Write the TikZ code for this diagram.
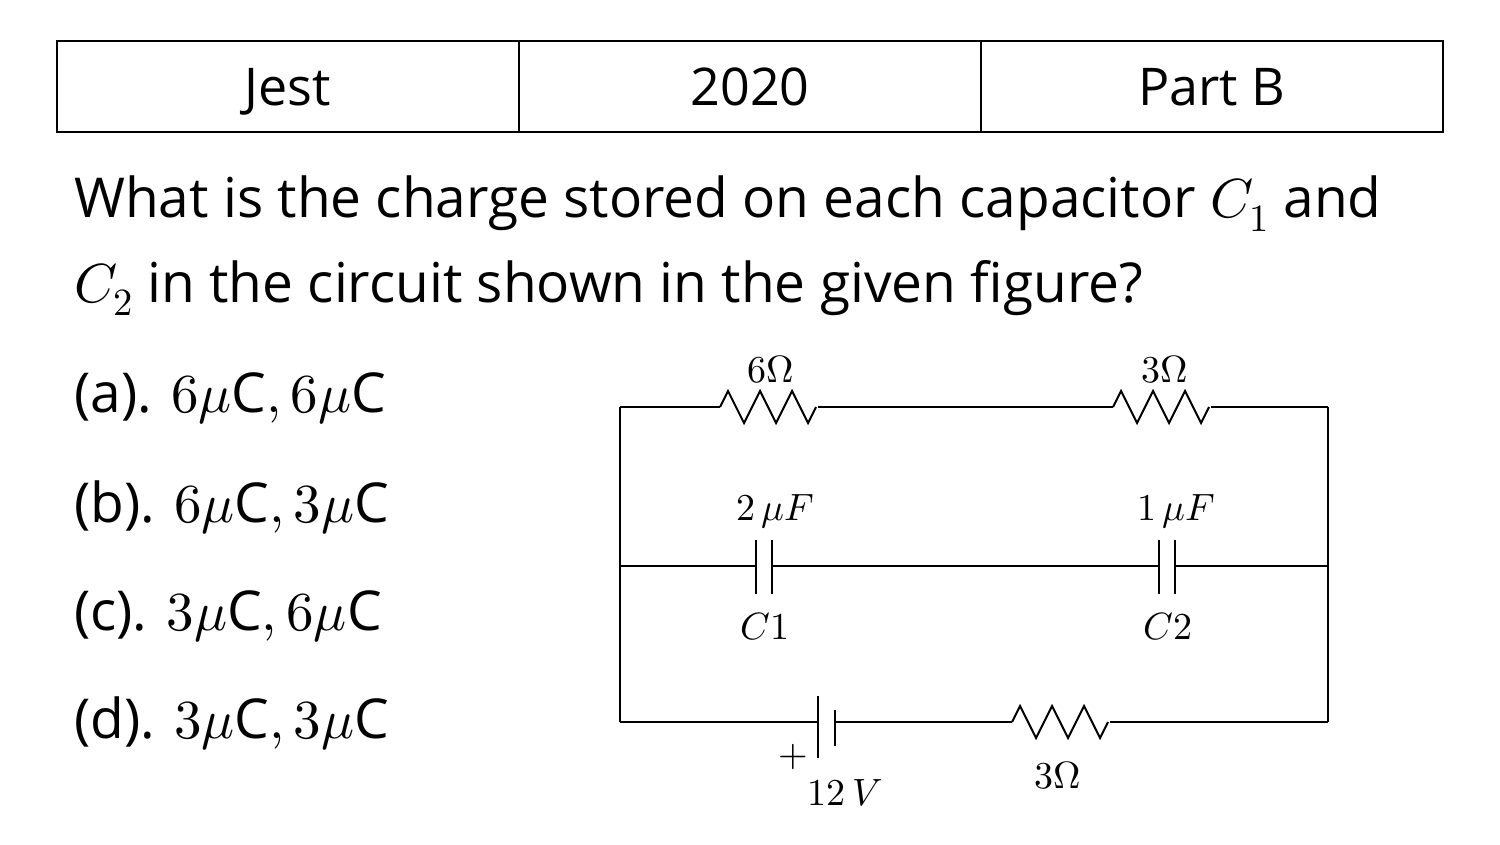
\documentclass[tikz,border=0pt]{standalone}
\usepackage{fontspec}
\setmainfont{Open Sans}
\usepackage{unicode-math}
\begin{document}
\begin{tikzpicture}[x=1pt,y=-1pt,
 txt/.style={font=\fontsize{55}{64}\selectfont,inner sep=0pt},
 ht/.style={font=\fontsize{52}{60}\selectfont,inner sep=0pt},
 ct/.style={font=\fontsize{38}{44}\selectfont,inner sep=0pt},
 w/.style={line width=2pt},
 resistor/.pic={\draw[line width=2pt,line join=miter] (0,0) -- ++(8,-16) -- ++(16,32) -- ++(16,-32) -- ++(16,32) -- ++(16,-32) -- ++(16,32) -- ++(8,-16);}]
\useasboundingbox (0,0) rectangle (1500,845);
\draw[line width=2pt] (57,41) rectangle (1443,132);
\draw[line width=2pt] (519,41) -- (519,132) (981,41) -- (981,132);
\node[ht,anchor=base] (h1) at (288,106) {Jest};
\node[ht,anchor=base] (h2) at (750,106) {2020};
\node[ht,anchor=base] (h3) at (1212,106) {Part B};
\node[txt,anchor=base west] (q1) at (74,218) {What is the charge stored on each capacitor $C_1$ and};
\node[txt,anchor=base west] (q2) at (74,302) {$C_2$ in the circuit shown in the given figure?};
\node[txt,anchor=base west] (oa) at (74,412) {(a). $6\mu\mathrm{C}, 6\mu\mathrm{C}$};
\node[txt,anchor=base west] (ob) at (74,522) {(b). $6\mu\mathrm{C}, 3\mu\mathrm{C}$};
\node[txt,anchor=base west] (oc) at (74,630) {(c). $3\mu\mathrm{C}, 6\mu\mathrm{C}$};
\node[txt,anchor=base west] (od) at (74,738) {(d). $3\mu\mathrm{C}, 3\mu\mathrm{C}$};
% circuit
\coordinate (TL) at (620,407); \coordinate (TR) at (1328,407);
\coordinate (ML) at (620,566); \coordinate (MR) at (1328,566);
\coordinate (BL) at (620,722); \coordinate (BR) at (1328,722);
\draw[w] (TL) -- (BL) (TR) -- (BR);
\draw[w] (TL) -- (720,407) (818,407) -- (1113,407) (1211,407) -- (TR);
\pic at (720,407) {resistor}; \pic at (1113,407) {resistor};
\draw[w] (ML) -- (756,566) (772,566) -- (1159,566) (1175,566) -- (MR);
\draw[w] (756,540) -- (756,594) (772,540) -- (772,594);
\draw[w] (1159,540) -- (1159,594) (1175,540) -- (1175,594);
\draw[w] (BL) -- (818,722) (835,722) -- (1012,722) (1110,722) -- (BR);
\draw[w] (818,696) -- (818,758) (835,710) -- (835,746);
\pic at (1012,722) {resistor};
\node[ct] (r1) at (771,370) {$6\Omega$};
\node[ct] (r2) at (1165,370) {$3\Omega$};
\node[ct] (c1v) at (775,512) {$2\,\mu F$};
\node[ct] (c2v) at (1176,512) {$1\,\mu F$};
\node[ct] (c1) at (765,627) {$C1$};
\node[ct] (c2) at (1168,627) {$C2$};
\node[ct] (pl) at (793,757) {$+$};
\node[ct] (bv) at (845,793) {$12\,V$};
\node[ct] (r3) at (1058,776) {$3\Omega$};
\end{tikzpicture}
\end{document}
